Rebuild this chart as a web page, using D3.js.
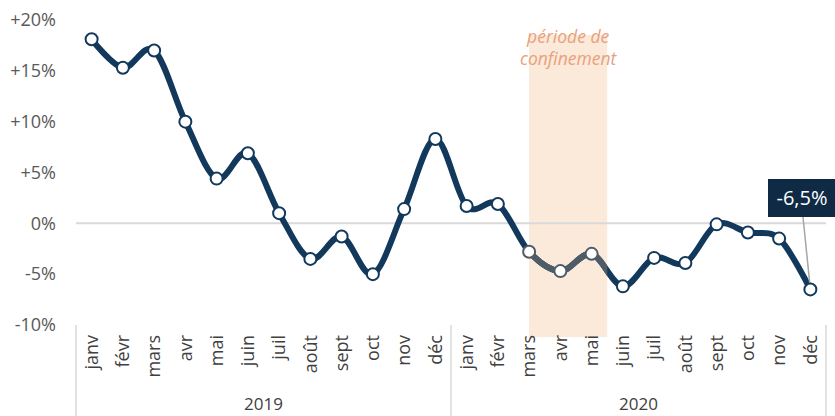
<!DOCTYPE html>
<html>
<head>
<meta charset="utf-8">
<script src="https://cdn.jsdelivr.net/npm/d3@7"></script>
<style>
  body { margin: 0; background: #fff; }
  svg { font-family: "Open Sans", "Noto Sans", sans-serif; }
</style>
</head>
<body>
<div id="chart"></div>
<script>
// data
var months = ["janv", "févr", "mars", "avr", "mai", "juin", "juil", "août", "sept", "oct", "nov", "déc"];
var years = ["2019", "2020"];
var values2019 = [18.1, 15.3, 17.0, 10.0, 4.4, 6.9, 1.0, -3.5, -1.3, -5.0, 1.4, 8.3];
var values2020 = [1.7, 1.9, -2.8, -4.7, -3.0, -6.2, -3.4, -3.9, -0.1, -0.9, -1.5, -6.5];
var yTicks = [-10, -5, 0, 5, 10, 15, 20];
var lockdown = ["2020-mars", "2020-mai"];
var lastLabel = "-6,5%";

var width = 835, height = 416;
var margin = { top: 20, right: 9, bottom: 91, left: 76 };

var data = [];
years.forEach(function (y, yi) {
    var vals = yi === 0 ? values2019 : values2020;
    months.forEach(function (m, i) {
        data.push({ key: y + "-" + m, month: m, year: y, value: vals[i] });
    });
});

var svg = d3.select("#chart").append("svg")
    .attr("width", width)
    .attr("height", height);

var x = d3.scaleBand()
    .domain(data.map(function (d) { return d.key; }))
    .range([margin.left, width - margin.right]);

var y = d3.scaleLinear()
    .domain([-10, 20])
    .range([height - margin.bottom, margin.top]);

function cx(d) { return x(d.key) + x.bandwidth() / 2; }

// lockdown band
var bandX0 = x(lockdown[0]) + x.bandwidth() / 2;
var bandX1 = x(lockdown[1]) + x.bandwidth();
svg.append("rect")
    .attr("x", bandX0)
    .attr("y", 35)
    .attr("width", bandX1 - bandX0)
    .attr("height", 302)
    .attr("fill", "#fbe9da");

svg.append("text")
    .attr("x", (bandX0 + bandX1) / 2)
    .attr("y", 43)
    .attr("text-anchor", "middle")
    .attr("font-style", "italic")
    .attr("font-size", 17.5)
    .attr("fill", "#e8a17c")
    .selectAll("tspan")
    .data(["période de", "confinement"])
    .join("tspan")
    .attr("x", (bandX0 + bandX1) / 2)
    .attr("dy", function (d, i) { return i === 0 ? 0 : 22; })
    .text(function (d) { return d; });

// y axis labels
svg.append("g")
    .selectAll("text")
    .data(yTicks)
    .join("text")
    .attr("x", 56)
    .attr("y", function (d) { return y(d); })
    .attr("dy", "0.35em")
    .attr("text-anchor", "end")
    .attr("font-size", 18)
    .attr("fill", "#595959")
    .text(function (d) { return (d > 0 ? "+" : "") + d + "%"; });

// zero line
svg.append("line")
    .attr("x1", margin.left)
    .attr("x2", width - margin.right)
    .attr("y1", y(0))
    .attr("y2", y(0))
    .attr("stroke", "#d9d9d9")
    .attr("stroke-width", 2);

// category separators
var seps = [x(data[0].key), x(data[12].key), width - margin.right];
svg.append("g")
    .selectAll("line")
    .data(seps)
    .join("line")
    .attr("x1", function (d) { return d; })
    .attr("x2", function (d) { return d; })
    .attr("y1", y(-10))
    .attr("y2", height)
    .attr("stroke", "#d9d9d9")
    .attr("stroke-width", 1.5);

// month labels
svg.append("g")
    .selectAll("text")
    .data(data)
    .join("text")
    .attr("transform", function (d) { return "translate(" + cx(d) + ",335) rotate(-90)"; })
    .attr("dy", "0.35em")
    .attr("text-anchor", "end")
    .attr("font-size", 18)
    .attr("fill", "#404040")
    .text(function (d) { return d.month; });

// year labels
svg.append("g")
    .selectAll("text")
    .data(years)
    .join("text")
    .attr("x", function (d, i) { return (seps[i] + seps[i + 1]) / 2; })
    .attr("y", 410)
    .attr("text-anchor", "middle")
    .attr("font-size", 17)
    .attr("fill", "#404040")
    .text(function (d) { return d; });

// line
var line = d3.line()
    .x(cx)
    .y(function (d) { return y(d.value); })
    .curve(d3.curveCardinal);

svg.append("clipPath")
    .attr("id", "band-clip")
    .append("rect")
    .attr("x", bandX0)
    .attr("y", 0)
    .attr("width", bandX1 - bandX0)
    .attr("height", height);

svg.append("path")
    .datum(data)
    .attr("d", line)
    .attr("fill", "none")
    .attr("stroke", "#12395c")
    .attr("stroke-width", 6)
    .attr("stroke-linejoin", "round");

svg.append("path")
    .datum(data)
    .attr("d", line)
    .attr("fill", "none")
    .attr("stroke", "#4f5c68")
    .attr("stroke-width", 6)
    .attr("clip-path", "url(#band-clip)");

// leader line for last value
var last = data[data.length - 1];
svg.append("line")
    .attr("x1", 803)
    .attr("y1", 217)
    .attr("x2", cx(last))
    .attr("y2", y(last.value))
    .attr("stroke", "#a6a6a6")
    .attr("stroke-width", 1.5);

// markers
svg.append("g")
    .selectAll("circle")
    .data(data)
    .join("circle")
    .attr("cx", cx)
    .attr("cy", function (d) { return y(d.value); })
    .attr("r", 6)
    .attr("fill", "#fff")
    .attr("stroke", function (d) {
        var c = cx(d);
        return (c >= bandX0 && c <= bandX1) ? "#4f5c68" : "#12395c";
    })
    .attr("stroke-width", 2);

// last value label
svg.append("rect")
    .attr("x", 768)
    .attr("y", 179)
    .attr("width", 67)
    .attr("height", 38)
    .attr("fill", "#0e2a45");

svg.append("text")
    .attr("x", 802)
    .attr("y", 198)
    .attr("dy", "0.35em")
    .attr("text-anchor", "middle")
    .attr("font-size", 20)
    .attr("fill", "#fff")
    .text(lastLabel);
</script>
</body>
</html>
